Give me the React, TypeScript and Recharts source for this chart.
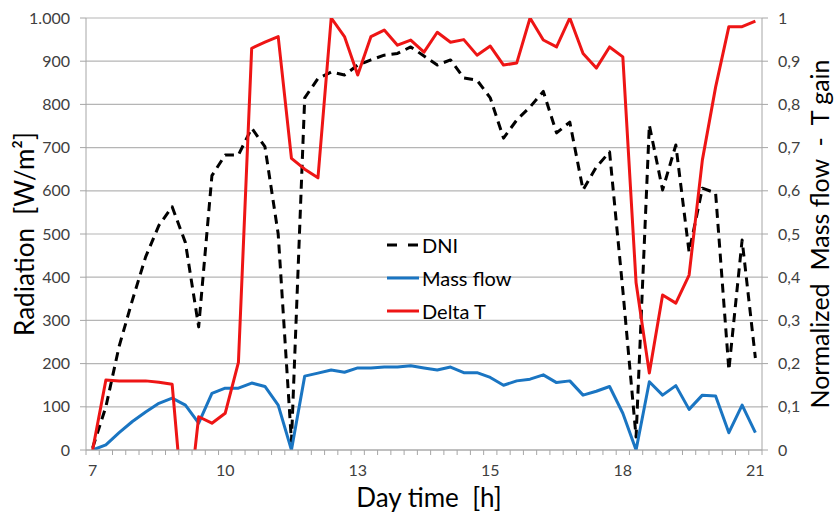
import React from 'react';
import { LineChart, Line, XAxis, YAxis, CartesianGrid, Legend, Label } from 'recharts';

// one value per sample slot (51 slots between 7 h and 21 h)
const dni = [
  5, 100, 240, 347, 447, 520, 563, 480, 285, 635,
  683, 683, 745, 702, 500, 20, 815, 860, 875, 868,
  891, 903, 914, 918, 933, 912, 891, 903, 861, 856,
  815, 722, 764, 794, 830, 734, 759, 602, 655, 690,
  370, 30, 752, 602, 706, 458, 606, 595, 185, 486,
  213,
];
const massFlow = [
  0, 0.012, 0.04, 0.066, 0.088, 0.108, 0.12, 0.104, 0.062, 0.131,
  0.143, 0.143, 0.155, 0.147, 0.104, 0, 0.171, 0.178, 0.185, 0.18,
  0.19, 0.19, 0.192, 0.192, 0.195, 0.19, 0.185, 0.192, 0.179, 0.179,
  0.168, 0.15, 0.16, 0.164, 0.174, 0.156, 0.16, 0.127, 0.136, 0.147,
  0.085, 0, 0.158, 0.127, 0.149, 0.094, 0.127, 0.125, 0.04, 0.104,
  0.04,
];
const deltaT = [
  0, 0.162, 0.16, 0.16, 0.16, 0.157, 0.152, -0.2, 0.077, 0.062,
  0.085, 0.203, 0.93, 0.944, 0.957, 0.675, 0.65, 0.63, 1.0, 0.957,
  0.868, 0.957, 0.972, 0.937, 0.949, 0.921, 0.967, 0.944, 0.95, 0.914,
  0.935, 0.891, 0.896, 1.0, 0.949, 0.933, 1.0, 0.918, 0.884, 0.933,
  0.91, 0.387, 0.178, 0.359, 0.34, 0.405, 0.671, 0.84, 0.98, 0.98,
  0.993,
];

// hour labels shown every 10th slot
const hourLabels = ['7', '10', '13', '15', '18', '21'];
const labelEvery = 10;

const leftTicks = [0, 100, 200, 300, 400, 500, 600, 700, 800, 900, 1000];
const rightTicks = [0, 0.1, 0.2, 0.3, 0.4, 0.5, 0.6, 0.7, 0.8, 0.9, 1];

const FONT = 'Lato, "Open Sans", sans-serif';
const AXIS_GRAY = '#a6a6a6';
const TEXT_GRAY = '#404040';

const series = [
  { key: 'dni', name: 'DNI', color: '#000000', dash: '9 6', legendDash: '10 11' },
  { key: 'massFlow', name: 'Mass flow', color: '#1a75c2', dash: undefined, legendDash: undefined },
  { key: 'deltaT', name: 'Delta T', color: '#ee1515', dash: undefined, legendDash: undefined },
];

const data = dni.map((v, i) => ({
  slot: i,
  dni: v,
  massFlow: massFlow[i],
  deltaT: deltaT[i],
}));

// tick marks sit on slot boundaries, labels on slot centres
const boundaryTicks = Array.from({ length: dni.length + 1 }, (_, i) => i - 0.5);
const labelTicks = hourLabels.map((_, i) => i * labelEvery);
const xTicks = [...boundaryTicks, ...labelTicks];

const XTick = ({ x, y, payload }: any) => {
  const v = payload.value;
  if (Number.isInteger(v)) {
    return (
      <text x={x} y={y + 26} textAnchor="middle" fill={TEXT_GRAY} fontSize={16} fontFamily={FONT}>
        {hourLabels[v / labelEvery]}
      </text>
    );
  }
  return <line x1={x} x2={x} y1={y} y2={y + 5} stroke={AXIS_GRAY} strokeWidth={1} />;
};

// keep the legend in series order (recharts sorts by name otherwise)
const LegendBox = () => (
  <div style={{ fontFamily: FONT, fontSize: 20, color: '#000' }}>
    {series.map((s) => (
      <div key={s.key} style={{ display: 'flex', alignItems: 'center', height: 33 }}>
        <svg width={32} height={6} style={{ marginRight: 3 }}>
          <line x1={0} x2={32} y1={3} y2={3} stroke={s.color} strokeWidth={3} strokeDasharray={s.legendDash} />
        </svg>
        <span>{s.name}</span>
      </div>
    ))}
  </div>
);

const leftTitle = ({ viewBox }: any) => {
  const cy = viewBox.y + viewBox.height / 2;
  return (
    <text
      transform={`translate(24, ${cy}) rotate(-90)`}
      textAnchor="middle"
      dominantBaseline="central"
      fontSize={26}
      fontFamily={FONT}
      fill="#000"
    >
      Radiation{'\u00a0\u00a0'}[W/m²]
    </text>
  );
};

const rightTitle = ({ viewBox }: any) => {
  const cy = viewBox.y + viewBox.height / 2;
  return (
    <text
      transform={`translate(${viewBox.x + 57}, ${cy}) rotate(-90)`}
      textAnchor="middle"
      dominantBaseline="central"
      fontSize={25}
      fontFamily={FONT}
      fill="#000"
    >
      Normalized{'\u00a0\u00a0'}Mass flow{'\u00a0\u00a0'}-{'\u00a0\u00a0'}T gain
    </text>
  );
};

const bottomTitle = ({ viewBox }: any) => (
  <text
    x={viewBox.x + viewBox.width / 2 + 5}
    y={viewBox.y + 57}
    textAnchor="middle"
    fontSize={26}
    fontFamily={FONT}
    fill="#000"
  >
    Day time{'\u00a0\u00a0'}[h]
  </text>
);

const App = () => {
  return (
    <div style={{ position: 'absolute', left: 0, top: 0, background: '#fff' }}>
      <LineChart
        width={837}
        height={514}
        data={data}
        margin={{ top: 18, right: 0, bottom: 0, left: 0 }}
        style={{ fontFamily: FONT }}
      >
        <CartesianGrid yAxisId="left" vertical={false} stroke="#b5b5b5" strokeWidth={1.2} />
        <XAxis
          dataKey="slot"
          type="number"
          domain={[-0.5, dni.length - 0.5]}
          ticks={xTicks}
          interval={0}
          tick={<XTick />}
          tickLine={false}
          tickSize={0}
          tickMargin={0}
          height={64}
          axisLine={{ stroke: AXIS_GRAY }}
        >
          <Label content={bottomTitle} />
        </XAxis>
        <YAxis
          yAxisId="left"
          domain={[0, 1000]}
          ticks={leftTicks}
          interval={0}
          width={86}
          tickFormatter={(v: number) => (v === 1000 ? '1.000' : String(v))}
          tick={{ fill: TEXT_GRAY, fontSize: 16, fontFamily: FONT }}
          tickLine={{ stroke: AXIS_GRAY }}
          tickSize={6}
          tickMargin={10}
          axisLine={{ stroke: AXIS_GRAY }}
          allowDataOverflow
        >
          <Label content={leftTitle} />
        </YAxis>
        <YAxis
          yAxisId="right"
          orientation="right"
          domain={[0, 1]}
          ticks={rightTicks}
          interval={0}
          width={75}
          tickFormatter={(v: number) => String(v).replace('.', ',')}
          tick={{ fill: TEXT_GRAY, fontSize: 16, fontFamily: FONT }}
          tickLine={{ stroke: AXIS_GRAY }}
          tickSize={6}
          tickMargin={10}
          axisLine={{ stroke: AXIS_GRAY }}
          allowDataOverflow
        >
          <Label content={rightTitle} />
        </YAxis>
        <Legend
          layout="vertical"
          align="center"
          verticalAlign="middle"
          content={<LegendBox />}
          wrapperStyle={{ left: 387, top: 228, width: 'auto', height: 'auto' }}
        />
        {series.map((s) => (
          <Line
            key={s.key}
            yAxisId={s.key === 'dni' ? 'left' : 'right'}
            type="linear"
            dataKey={s.key}
            name={s.name}
            stroke={s.color}
            strokeWidth={3}
            strokeDasharray={s.dash}
            strokeLinejoin="round"
            dot={false}
            isAnimationActive={false}
          />
        ))}
      </LineChart>
    </div>
  );
};

export default App;
